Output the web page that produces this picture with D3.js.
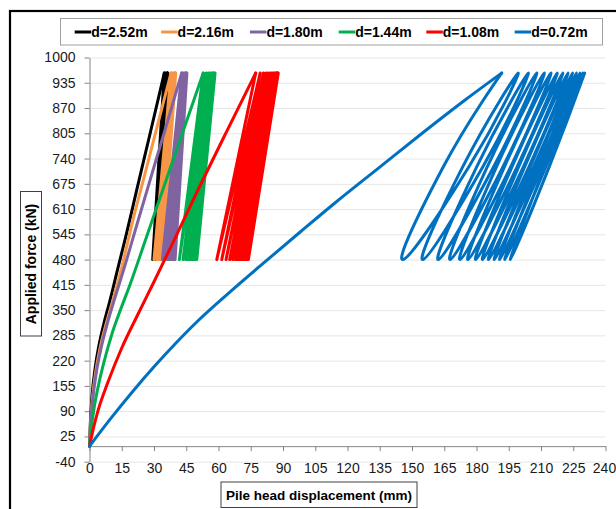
<!DOCTYPE html>
<html><head><meta charset="utf-8">
<script src="https://cdn.jsdelivr.net/npm/d3@7"></script>
<style>body{margin:0;background:#fff}svg{display:block}</style>
</head><body><svg id="c" width="616" height="509"></svg>
<script>
// ---------- data ----------
const seriesNames = ["d=2.52m","d=2.16m","d=1.80m","d=1.44m","d=1.08m","d=0.72m"];
const xTicks = [0,15,30,45,60,75,90,105,120,135,150,165,180,195,210,225,240];
const yTicks = [-40,25,90,155,220,285,350,415,480,545,610,675,740,805,870,935,1000];
const loopMinForce = 480, loopMidForce = 720, loopMaxForce = 960;

// initial loading curves [displacement mm, force kN]
const load252 = [[0,0],[0.4,60],[1.2,130],[2.6,200],[4.5,262],[6.8,318],[9.3,370],[13.3,460],[16.7,535],[22,660],[28,800],[34.8,960]];
const load216 = [[0,0],[0.5,60],[1.5,130],[3,195],[5,255],[7.5,310],[10.5,368],[15,460],[20,577],[26,705],[32,834],[37.9,960]];
const load180 = [[0,0],[0.5,55],[1.5,120],[3.2,190],[5.5,255],[8.5,320],[12,385],[16,456],[22,569],[29,700],[36,830],[42.9,960]];
const load144 = [[0,0],[0.8,45],[2.2,100],[4.3,160],[7,222],[10.5,290],[14.5,352],[19,418],[26,530],[34,658],[43,802],[52.9,960]];
const load108 = [[0,0],[2,50],[4,92],[8.6,165],[14.8,250],[22.6,340],[30,423],[38.5,520],[51.4,670],[64,812],[77.3,960]];
const load072 = [[0,0],[10,72],[20,140],[30,204],[40,264],[50,320],[65,395],[82,476],[98,551],[114,625],[135,718],[154,802],[175,892],[191.7,960]];

// cyclic loading: displacement at peak force (tops) and at minimum force (bottoms)
const top252 = [34.8,35.4,35.8,36.1,36.3,36.4,36.5];
const bot252 = [29.4,30.2,30.8,31.2,31.5,31.7];
const top216 = [37.9,38.6,39.1,39.4,39.7,39.8,39.9,40.0,40.1,40.1,40.1];
const bot216 = [30.0,31.2,32.0,32.6,33.0,33.3,33.5,33.7,33.8,33.9];
const top180 = [42.9,43.6,44.1,44.5,44.8,45.0,45.1,45.2,45.2,45.3,45.3,45.3,45.3];
const bot180 = [33.9,35.3,36.4,37.2,37.9,38.4,38.8,39.1,39.4,39.6,39.7,39.8];
const top144 = [52.9,54.3,55.3,56.0,56.6,57.0,57.4,57.7,57.9,58.1,58.2,58.3,58.4,58.4];
const bot144 = [41.8,43.5,44.8,45.8,46.6,47.3,47.9,48.4,48.8,49.2,49.5,49.7,49.9];
const top108 = [77.3,79.4,80.9,82.1,83.1,84.0,84.7,85.3,85.8,86.2,86.6,86.9,87.2,87.4,87.6,87.8];
const bot108 = [59.2,61.5,63.5,65.2,66.6,67.8,68.8,69.7,70.5,71.2,71.8,72.4,72.9,73.4,73.9];
const top072 = [191.7,199.4,204.1,208.0,211.5,214.6,217.5,220.1,222.5,224.6,226.4,228.0,229.3,230.3];
const bot072 = [145.7,155.0,162.2,167.7,172.3,176.0,179.6,182.8,185.6,188.3,190.8,193.2,195.8];
// displacement at mid force on unloading / reloading branches (d=0.72m)
const unloadMid072 = [164.7,173.7,180.2,185.1,189.4,193.1,196.6,199.7,202.5,205.1,207.4,209.6,211.8];
const reloadMid072 = [176.6,183.1,188.1,192.4,196.0,199.0,201.9,204.5,206.7,208.8,210.6,212.3,213.9];

// ---------- style ----------
const colors = ["#000000","#F79646","#8064A2","#00B050","#FF0000","#0070C0"];
const FONT = "'Liberation Sans', Arial, sans-serif";

const series = [
  {name:seriesNames[0], load:load252, tops:top252, bots:bot252},
  {name:seriesNames[1], load:load216, tops:top216, bots:bot216},
  {name:seriesNames[2], load:load180, tops:top180, bots:bot180},
  {name:seriesNames[3], load:load144, tops:top144, bots:bot144},
  {name:seriesNames[4], load:load108, tops:top108, bots:bot108},
  {name:seriesNames[5], load:load072, tops:top072, bots:bot072, umid:unloadMid072, rmid:reloadMid072}
];

function loopPoints(s){
  const pts=[];
  for(let i=0;i<s.tops.length;i++){
    pts.push([s.tops[i], loopMaxForce]);
    if(i<s.bots.length){
      if(s.umid) pts.push([s.umid[i], loopMidForce]);
      pts.push([s.bots[i], loopMinForce]);
      if(s.rmid) pts.push([s.rmid[i], loopMidForce]);
    }
  }
  return pts;
}

const svg = d3.select("#c");
const x = d3.scaleLinear().domain([0,240]).range([89.5,605.5]);
const y = d3.scaleLinear().domain([-40,1000]).range([461.7,57.5]);

// outer frame
svg.append("rect").attr("x",10).attr("y",11).attr("width",700).attr("height",600)
  .attr("fill","none").attr("stroke","#000").attr("stroke-width",2.2);

// gridlines
svg.append("g").attr("transform",`translate(${x(0)},0)`)
  .call(d3.axisLeft(y).tickValues(yTicks).tickSize(-(x(240)-x(0))).tickFormat(""))
  .call(g=>g.select(".domain").remove())
  .call(g=>g.selectAll("line").attr("stroke","#E6E6E6").attr("stroke-width",1));

// y axis
const ya = svg.append("g").attr("transform",`translate(${x(0)},0)`)
  .call(d3.axisLeft(y).tickValues(yTicks).tickFormat(d=>String(d)).tickSize(5).tickSizeOuter(0).tickPadding(9));
ya.select(".domain").attr("stroke","#868686");
ya.selectAll("line").attr("stroke","#868686");
ya.selectAll("text").attr("font-family",FONT).attr("font-size",14).attr("fill","#1a1a1a");

// x axis at force 0
const xa = svg.append("g").attr("transform",`translate(0,${y(0)})`)
  .call(d3.axisBottom(x).tickValues(xTicks).tickFormat(d=>String(d)).tickSize(5).tickSizeOuter(0));
xa.select(".domain").attr("stroke","#868686");
xa.selectAll("line").attr("stroke","#868686");
xa.selectAll("text").attr("font-family",FONT).attr("font-size",14).attr("fill","#1a1a1a")
  .attr("y", 468 - y(0)).attr("dy","0.35em")
  .attr("dx", d=> d===240 ? -1.5 : 0);

// series
const lineLoad = d3.line().x(d=>x(d[0])).y(d=>y(d[1])).curve(d3.curveMonotoneX);
series.forEach((s,i)=>{
  const g = svg.append("g");
  g.append("path").attr("d", lineLoad(s.load)).attr("fill","none")
    .attr("stroke",colors[i]).attr("stroke-width",3).attr("stroke-linejoin","round").attr("stroke-linecap","round");
  const lp = d3.line().x(d=>x(d[0])).y(d=>y(d[1]))
    .curve(s.umid ? d3.curveCardinal.tension(-0.5) : d3.curveLinear);
  g.append("path").attr("d", lp(loopPoints(s))).attr("fill","none")
    .attr("stroke",colors[i]).attr("stroke-width",3).attr("stroke-linejoin","round").attr("stroke-linecap","round");
});

// legend
svg.append("rect").attr("x",60.5).attr("y",18.5).attr("width",542).attr("height",26.5)
  .attr("fill","#fff").attr("stroke","#A0A0A0").attr("stroke-width",1);
const legX = [74.7,161.1,249.9,338.7,426.3,514.7];
series.forEach((s,i)=>{
  svg.append("line").attr("x1",legX[i]).attr("x2",legX[i]+16.5).attr("y1",32).attr("y2",32)
    .attr("stroke",colors[i]).attr("stroke-width",3);
  svg.append("text").attr("x",legX[i]+16.5).attr("y",32).attr("dy","0.35em")
    .attr("font-family",FONT).attr("font-size",14).attr("font-weight","bold").attr("fill","#000")
    .text(s.name);
});

// y title
svg.append("rect").attr("x",20.5).attr("y",191.5).attr("width",21).attr("height",144.5)
  .attr("fill","#fff").attr("stroke","#404040").attr("stroke-width",1);
svg.append("text").attr("transform","translate(31.5,264) rotate(-90)")
  .attr("text-anchor","middle").attr("dy","0.35em")
  .attr("font-family",FONT).attr("font-size",14).attr("font-weight","bold").attr("fill","#000")
  .text("Applied force (kN)");

// x title
svg.append("rect").attr("x",221).attr("y",482).attr("width",196).attr("height",25.5)
  .attr("fill","#fff").attr("stroke","#404040").attr("stroke-width",1);
svg.append("text").attr("x",319).attr("y",494.8).attr("text-anchor","middle").attr("dy","0.35em")
  .attr("font-family",FONT).attr("font-size",13.5).attr("font-weight","bold").attr("fill","#000")
  .text("Pile head displacement (mm)");
</script></body></html>
